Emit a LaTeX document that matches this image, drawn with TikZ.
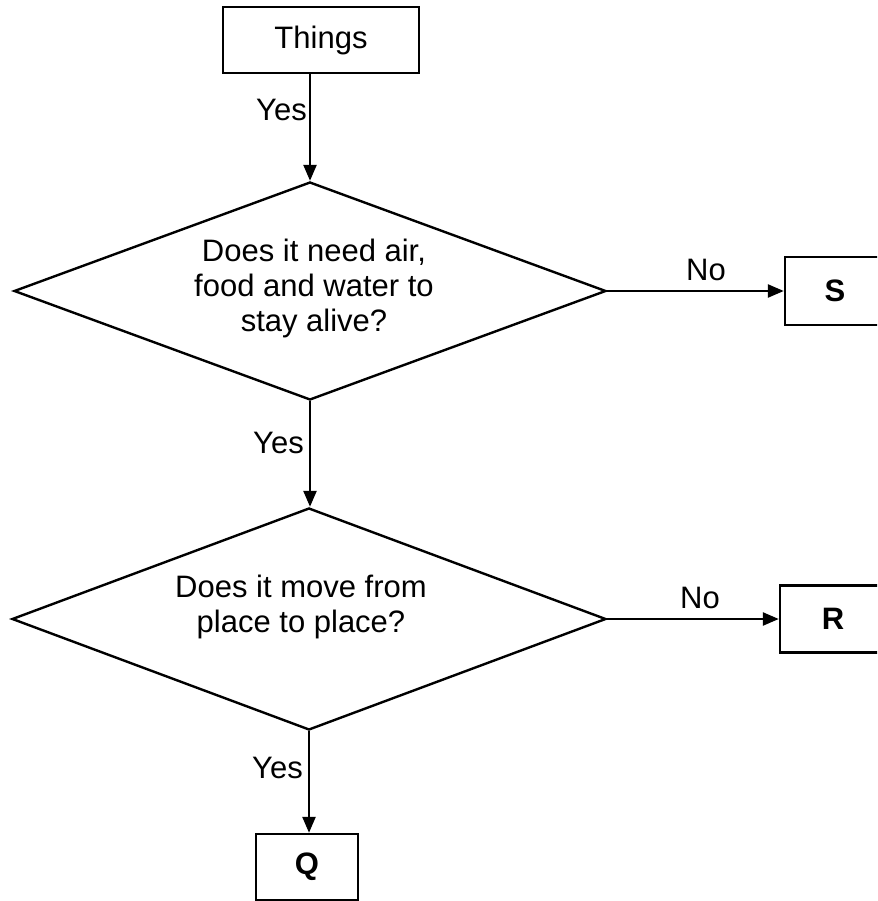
\documentclass[tikz,border=0pt]{standalone}
\usepackage{fontspec}
\setmainfont{Liberation Sans}
\usetikzlibrary{shapes.geometric,arrows.meta}
\begin{document}
\begin{tikzpicture}[x=1pt,y=-1pt,
  line width=2.4pt,
  every node/.style={font=\fontsize{31}{35}\selectfont},
  box/.style={draw,rectangle,inner sep=0pt},
  dia/.style={draw,diamond,inner sep=0pt},
  arr/.style={-{Triangle[length=16pt,width=13pt]}},
  lbl/.style={inner sep=0pt},
  txt/.style={inner sep=0pt,align=center}]
\useasboundingbox (0,0) rectangle (877,901);
\clip (0,0) rectangle (877,901);
% nodes
\node[box,minimum width=196pt,minimum height=66pt] (t) at (321,40) {Things};
\node[dia,minimum width=592pt,minimum height=218pt] (d1) at (310,291) {};
\node[txt] (d1txt) at (314,288) {Does it need air,\\food and water to\\stay alive?};
\node[dia,minimum width=594pt,minimum height=222pt] (d2) at (309,619) {};
\node[txt] (d2txt) at (301,607) {Does it move from\\place to place?};
\node[box,minimum width=100pt,minimum height=68pt,font=\fontsize{31}{35}\selectfont\bfseries] (s) at (835,291) {S};
\node[box,minimum width=106pt,minimum height=67pt,font=\fontsize{31}{35}\selectfont\bfseries] (r) at (833,619) {R};
\node[box,minimum width=102pt,minimum height=66pt,font=\fontsize{31}{35}\selectfont\bfseries] (q) at (307,867) {Q};
% connectors
\draw[arr] (t.south -| d1.north) -- (d1.north);
\draw[arr] (d1.south) -- (d1.south |- d2.north);
\draw[arr] (d2.south) -- (d2.south |- q.north);
\draw[arr] (d1.east) -- (s.west);
\draw[arr] (d2.east) -- (r.west);
% labels
\node[lbl,anchor=east] (y1) at (308,110) {Yes};
\node[lbl,anchor=east] (y2) at (305,443) {Yes};
\node[lbl,anchor=east] (y3) at (304,768) {Yes};
\node[lbl] (n1) at (706,270) {No};
\node[lbl] (n2) at (700,598) {No};
\end{tikzpicture}
\end{document}
